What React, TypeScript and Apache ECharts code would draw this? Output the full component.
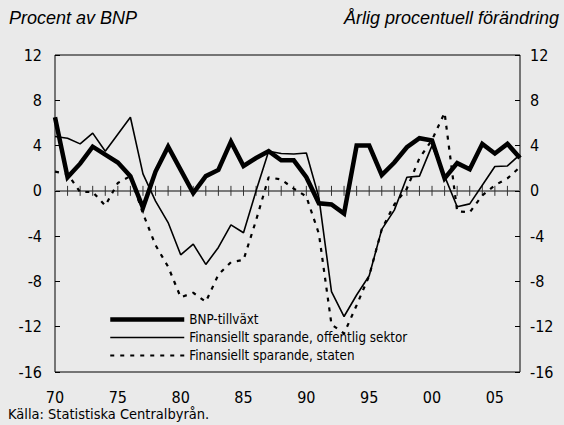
import React, { useEffect, useRef } from 'react';
import * as echarts from 'echarts';

const years = [
  1970, 1971, 1972, 1973, 1974, 1975, 1976, 1977, 1978, 1979,
  1980, 1981, 1982, 1983, 1984, 1985, 1986, 1987, 1988, 1989,
  1990, 1991, 1992, 1993, 1994, 1995, 1996, 1997, 1998, 1999,
  2000, 2001, 2002, 2003, 2004, 2005, 2006, 2007,
];

// BNP-tillväxt (årlig procentuell förändring)
const bnp = [
  6.5, 1.2, 2.4, 3.9, 3.2, 2.5, 1.3, -1.5, 1.7, 3.9,
  1.85, -0.2, 1.3, 1.85, 4.35, 2.2, 2.9, 3.5, 2.7, 2.7,
  1.2, -1.1, -1.2, -2.0, 4.0, 4.0, 1.4, 2.5, 3.85, 4.65,
  4.45, 1.1, 2.45, 1.9, 4.15, 3.3, 4.15, 2.9,
];

// Finansiellt sparande, offentlig sektor (procent av BNP)
const offentlig = [
  4.8, 4.65, 4.15, 5.1, 3.5, 5.0, 6.5, 1.5, -0.9, -2.8,
  -5.65, -4.7, -6.5, -5.0, -3.0, -3.7, 0.0, 3.5, 3.3, 3.25,
  3.35, -0.6, -8.9, -11.1, -9.2, -7.5, -3.4, -1.7, 1.2, 1.3,
  4.0, 1.3, -1.4, -1.15, 0.5, 2.15, 2.2, 3.2,
];

// Finansiellt sparande, staten (procent av BNP)
const staten = [
  1.7, 1.5, -0.1, -0.1, -1.3, 0.7, 1.3, -2.0, -4.8, -6.7,
  -9.4, -9.0, -9.8, -7.4, -6.3, -6.1, -2.6, 1.2, 1.0, 0.2,
  -0.5, -3.8, -11.8, -12.6, -10.1, -7.5, -3.4, -1.2, 0.2, 2.9,
  4.5, 6.9, -1.8, -1.9, -0.4, 0.5, 1.1, 2.1,
];

const seriesNames = [
  'BNP-tillväxt',
  'Finansiellt sparande, offentlig sektor',
  'Finansiellt sparande, staten',
];

const titleLeft = 'Procent av BNP';
const titleRight = 'Årlig procentuell förändring';
const sourceText = 'Källa: Statistiska Centralbyrån.';

const NARROW = "'Liberation Sans Narrow', 'DejaVu Sans Condensed', 'Roboto Condensed', sans-serif";
const BG = '#eaeaea';

const thickStyle = { color: '#000', width: 4.5, join: 'miter' as const };
const thinStyle = { color: '#000', width: 1.6 };
const dashStyle = { color: '#000', width: 2.2, type: [4, 6] };

export default function App() {
  const ref = useRef<HTMLDivElement>(null);

  useEffect(() => {
    document.body.style.margin = '0';
    document.body.style.background = BG;
    const chart = echarts.init(ref.current as HTMLDivElement, null, { renderer: 'svg' });

    const pairs = (vals: number[]) => years.map((y, i) => [y, vals[i]]);
    const tickYears = years.slice(1, -1);

    const yAxisBase = {
      type: 'value' as const,
      min: -16,
      max: 12,
      interval: 4,
      axisLine: { show: false },
      axisTick: { show: true, inside: true, length: 5, lineStyle: { color: '#000', width: 1 } },
      splitLine: { show: false },
    };

    chart.setOption({
      animation: false,
      backgroundColor: BG,
      title: [
        {
          text: titleLeft,
          left: 9,
          top: 9,
          padding: 0,
          textStyle: { fontFamily: "'Liberation Sans', Arial, sans-serif", fontStyle: 'italic', fontWeight: 'normal', fontSize: 18, color: '#000' },
        },
        {
          text: titleRight,
          right: 5,
          top: 9,
          padding: 0,
          textStyle: { fontFamily: "'Liberation Sans', Arial, sans-serif", fontStyle: 'italic', fontWeight: 'normal', fontSize: 18, color: '#000' },
        },
      ],
      grid: {
        left: 55,
        right: 44,
        top: 55,
        bottom: 53,
        show: true,
        borderColor: '#000',
        borderWidth: 1,
        backgroundColor: 'transparent',
      },
      legend: {
        orient: 'vertical',
        left: 108,
        top: 313,
        itemWidth: 74,
        itemHeight: 12,
        itemGap: 5,
        padding: 0,
        itemStyle: { opacity: 0 },
        lineStyle: { width: 'inherit' },
        data: [
          { name: seriesNames[0], lineStyle: { width: 4.5, color: '#000', type: 'solid' } },
          { name: seriesNames[1], lineStyle: { width: 1.6, color: '#000', type: 'solid' } },
          { name: seriesNames[2], lineStyle: { width: 2.2, color: '#000', type: [4, 6] } },
        ],
        textStyle: { fontFamily: NARROW, fontSize: 13.3, color: '#000' },
      },
      xAxis: [
        {
          type: 'value',
          min: 1970,
          max: 2007,
          interval: 5,
          position: 'bottom',
          axisLine: { show: false, onZero: false },
          axisTick: { show: false },
          splitLine: { show: false },
          axisLabel: {
            show: true,
            margin: 17,
            fontFamily: NARROW,
            fontSize: 16,
            color: '#000',
            formatter: (v: number) => (v % 5 === 0 ? String(v).slice(2) : ''),
          },
        },
        {
          type: 'value',
          min: 1970,
          max: 2007,
          interval: 5,
          position: 'top',
          axisLine: { show: true, onZero: true, lineStyle: { color: '#7a7a7a', width: 2 } },
          axisTick: { show: false },
          axisLabel: { show: false },
          splitLine: { show: false },
        },
      ],
      yAxis: [
        {
          ...yAxisBase,
          position: 'left',
          axisLabel: { margin: 13, fontFamily: NARROW, fontSize: 16, color: '#000' },
        },
        {
          ...yAxisBase,
          position: 'right',
          axisLabel: { margin: 10, fontFamily: NARROW, fontSize: 16, color: '#000' },
        },
      ],
      graphic: [
        {
          type: 'text',
          left: 8,
          top: 406,
          style: { text: sourceText, font: `14.5px ${NARROW}`, fill: '#000' },
        },
      ],
      series: [
        {
          type: 'custom',
          name: 'ticks',
          silent: true,
          z: 1,
          xAxisIndex: 0,
          yAxisIndex: 0,
          data: tickYears.map((y) => [y, 0]),
          renderItem: (params: any, api: any) => {
            const p = api.coord([api.value(0), 0]);
            return {
              type: 'line',
              shape: { x1: p[0], y1: p[1] - 5, x2: p[0], y2: p[1] + 5 },
              style: { stroke: '#333', lineWidth: 1 },
            };
          },
        },
        {
          type: 'line',
          name: seriesNames[2],
          data: pairs(staten),
          symbol: 'none',
          z: 3,
          lineStyle: dashStyle,
          itemStyle: { color: '#000' },
        },
        {
          type: 'line',
          name: seriesNames[1],
          data: pairs(offentlig),
          symbol: 'none',
          z: 4,
          lineStyle: thinStyle,
          itemStyle: { color: '#000' },
        },
        {
          type: 'line',
          name: seriesNames[0],
          data: pairs(bnp),
          symbol: 'none',
          z: 5,
          lineStyle: thickStyle,
          itemStyle: { color: '#000' },
        },
      ],
    });

    return () => chart.dispose();
  }, []);

  return <div ref={ref} style={{ width: 564, height: 425, background: BG }} />;
}
